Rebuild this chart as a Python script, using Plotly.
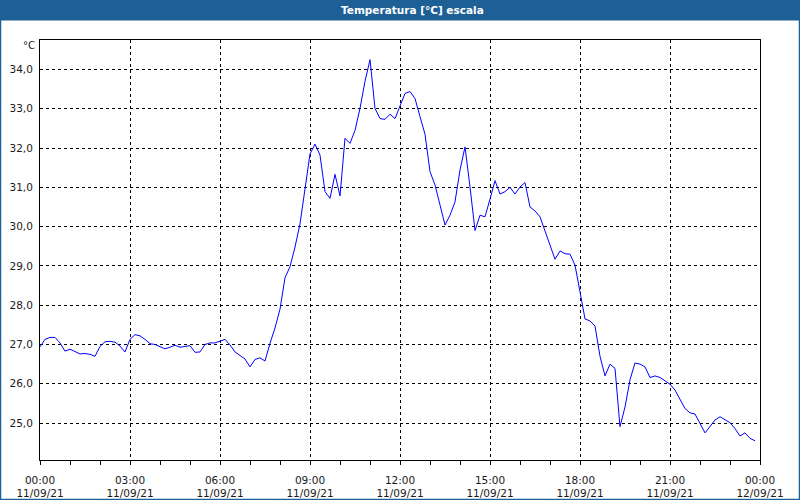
import plotly.graph_objects as go
import pandas as pd

# ---- data -------------------------------------------------------------
start_time = "2021-09-11 00:00"
step_minutes = 10
temperature = [
    26.94, 27.13, 27.18, 27.18, 27.04, 26.83, 26.88, 26.81, 26.76, 26.77,
    26.75, 26.70, 26.95, 27.07, 27.08, 27.06, 26.96, 26.81, 27.13, 27.25,
    27.22, 27.13, 27.02, 27.00, 26.94, 26.89, 26.93, 26.98, 26.93, 26.95,
    26.97, 26.80, 26.81, 27.00, 27.04, 27.04, 27.08, 27.13, 26.99, 26.81,
    26.72, 26.63, 26.43, 26.62, 26.66, 26.58, 27.03, 27.42, 27.90, 28.70,
    28.98, 29.48, 30.07, 30.90, 31.85, 32.10, 31.82, 30.89, 30.72, 31.33,
    30.78, 32.25, 32.12, 32.45, 33.01, 33.70, 34.25, 33.01, 32.75, 32.73,
    32.86, 32.75, 33.05, 33.39, 33.44, 33.26, 32.80, 32.35, 31.40, 31.06,
    30.55, 30.04, 30.29, 30.63, 31.44, 32.03, 31.01, 29.90, 30.29, 30.25,
    30.70, 31.17, 30.83, 30.89, 31.00, 30.83, 31.01, 31.12, 30.50, 30.40,
    30.25, 29.87, 29.49, 29.17, 29.38, 29.31, 29.30, 29.02, 28.34, 27.65,
    27.60, 27.47, 26.70, 26.20, 26.50, 26.39, 24.91, 25.41, 26.10, 26.53,
    26.50, 26.43, 26.16, 26.20, 26.16, 26.08, 25.99, 25.84, 25.59, 25.37,
    25.26, 25.23, 24.99, 24.75, 24.91, 25.08, 25.16, 25.08, 25.01, 24.86,
    24.67, 24.75, 24.61, 24.55,
]
x_tick_times = ["2021-09-11 00:00", "2021-09-11 03:00", "2021-09-11 06:00",
                "2021-09-11 09:00", "2021-09-11 12:00", "2021-09-11 15:00",
                "2021-09-11 18:00", "2021-09-11 21:00", "2021-09-12 00:00"]
x_tick_labels = ["00:00<br>11/09/21", "03:00<br>11/09/21", "06:00<br>11/09/21",
                 "09:00<br>11/09/21", "12:00<br>11/09/21", "15:00<br>11/09/21",
                 "18:00<br>11/09/21", "21:00<br>11/09/21", "00:00<br>12/09/21"]
y_tick_values = [25, 26, 27, 28, 29, 30, 31, 32, 33, 34]
y_tick_labels = ["25,0", "26,0", "27,0", "28,0", "29,0", "30,0", "31,0", "32,0", "33,0", "34,0"]
title_text = "Temperatura [°C] escala"
unit_text = "°C"

times = pd.date_range(start_time, periods=len(temperature), freq=f"{step_minutes}min")

# ---- figure -----------------------------------------------------------
W, H = 800, 500
ML, MR, MT, MB = 40, 40, 40, 40
PW, PH = W - ML - MR, H - MT - MB
BAR = "#1e6096"
FONT = "DejaVu Sans"
DASH = "3px,3px"

fig = go.Figure(go.Scatter(x=times, y=temperature, mode="lines",
                           line=dict(color="#0000ff", width=1),
                           hoverinfo="x+y"))

def px_x(p):
    return (p - ML) / PW

def px_y(p):
    return 1 - (p - MT) / PH

fig.update_layout(
    width=W, height=H,
    margin=dict(l=ML, r=MR, t=MT, b=MB, pad=0, autoexpand=False),
    paper_bgcolor="white", plot_bgcolor="white",
    showlegend=False,
    font=dict(family=FONT, size=10, color="#1a1a1a"),
    shapes=[
        dict(type="rect", xref="paper", yref="paper",
             x0=px_x(0), x1=px_x(W), y0=px_y(0), y1=px_y(20.5),
             fillcolor=BAR, line=dict(width=0), layer="above"),
        dict(type="rect", xref="paper", yref="paper",
             x0=px_x(0.5), x1=px_x(W - 0.5), y0=px_y(H - 0.5), y1=px_y(0),
             line=dict(color=BAR, width=1.5), layer="above"),
    ],
    annotations=[
        dict(text="<b>" + title_text + "</b>", xref="paper", yref="paper",
             x=px_x(412.5), y=px_y(10), showarrow=False,
             font=dict(family=FONT, size=10.5, color="white"),
             xanchor="center", yanchor="middle"),
        dict(text=unit_text, xref="paper", yref="paper",
             x=px_x(37), y=px_y(46), showarrow=False,
             font=dict(family=FONT, size=10, color="#1a1a1a"),
             xanchor="right", yanchor="middle"),
    ],
)

fig.update_xaxes(
    type="date", automargin=False,
    range=["2021-09-11 00:00", "2021-09-12 00:00"],
    tickmode="array", tickvals=x_tick_times, ticktext=x_tick_labels,
    ticks="outside", ticklen=4, tickcolor="black", tickwidth=1,
    ticklabelstandoff=6, tickfont=dict(size=10.5),
    minor=dict(dtick=3600000, ticks="outside", ticklen=4, tickcolor="black", showgrid=False),
    showgrid=True, gridcolor="black", gridwidth=1, griddash=DASH,
    showline=True, linecolor="black", linewidth=1, mirror=True,
    zeroline=False, tickangle=0,
)
fig.update_yaxes(
    range=[24.06, 34.75], automargin=False,
    tickmode="array", tickvals=y_tick_values, ticktext=y_tick_labels,
    ticks="", ticklabelstandoff=4, tickfont=dict(size=10.5),
    showgrid=True, gridcolor="black", gridwidth=1, griddash=DASH,
    showline=True, linecolor="black", linewidth=1, mirror=True,
    zeroline=False,
)

fig.write_html("out.html")
